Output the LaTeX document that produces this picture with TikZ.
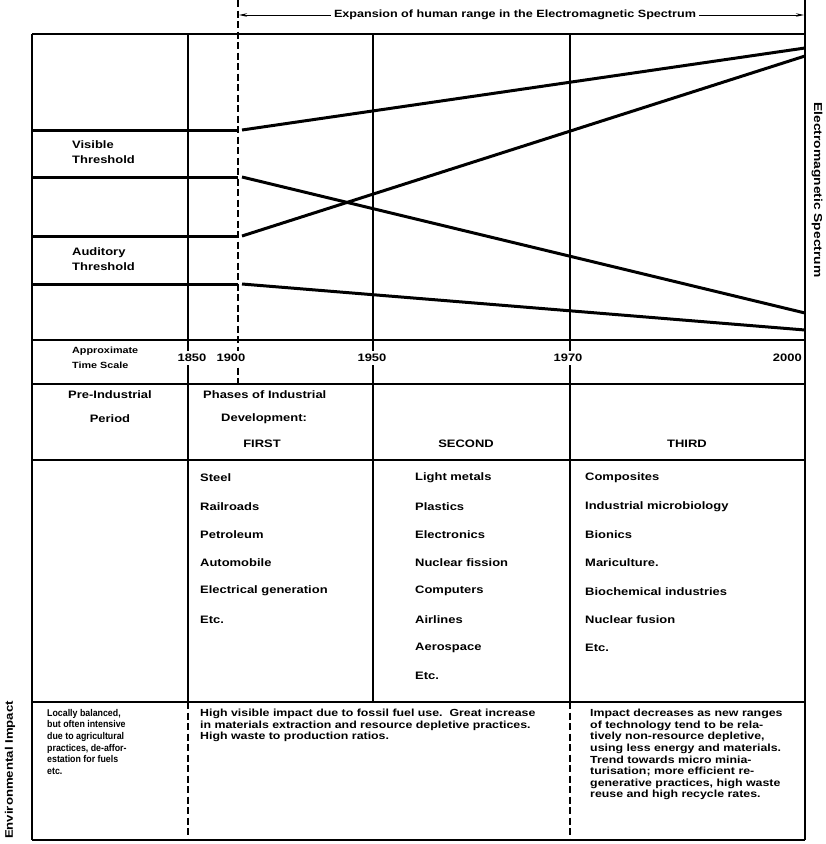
\documentclass[tikz,border=0pt]{standalone}
\usepackage{fontspec}
\newfontfamily\chartfont[FakeStretch=1.2]{Liberation Sans}
\newfontfamily\narrowfont[FakeStretch=0.9]{Liberation Sans}
\usetikzlibrary{arrows.meta}

\tikzset{
  rule/.style={line width=1.2pt},
  cutline/.style={line width=1.4pt, dash pattern=on 7pt off 3.5pt},
  threshold/.style={line width=3pt},
  txt/.style={font=\chartfont\bfseries\fontsize{10.8}{15}\selectfont, inner sep=0pt},
  listitem/.style={txt, anchor=west},
  note/.style={font=\chartfont\bfseries\fontsize{10.3}{11.6}\selectfont,
    inner sep=0pt, anchor=north west, align=left},
  year/.style={txt, fill=white, inner xsep=1pt, inner ysep=3pt},
  rangearrow/.style={line width=0.9pt, -{Stealth[length=8pt, width=3.5pt]}},
}

\begin{document}
\begin{tikzpicture}[x=1pt, y=-1pt]
  \useasboundingbox (0,0) rectangle (826,844);

  % frame and rows
  \draw [rule] (32,34) -- (805,34);
  \draw [rule] (32,34) -- (32,840);
  \draw [rule] (805,0) -- (805,840);
  \foreach \y in {340,384,460,702,840}
    \draw [rule] (32,\y) -- (805,\y);

  % time lines
  \draw [rule] (188,34) -- (188,702);
  \draw [rule] (373,34) -- (373,702);
  \draw [rule] (570,34) -- (570,702);
  \draw [cutline] (238,0) -- (238,384);
  \draw [cutline] (188,702) -- (188,840);
  \draw [cutline] (570,702) -- (570,840);

  % thresholds
  \foreach \a/\b in {130/48, 177/313, 236/56, 284/330}{
    \draw [threshold] (32,\a) -- (238,\a);
    \draw [threshold] (242,\a) -- (805,\b);
  }

  \node [txt, font=\chartfont\bfseries\fontsize{10.5}{12}\selectfont] (range) at (515,15)
    {Expansion of human range in the Electromagnetic Spectrum};
  \coordinate (rangeleft) at (239,15);
  \coordinate (rangeright) at (804,15);
  \draw [rangearrow] ([xshift=-3pt]range.west) -- (rangeleft);
  \draw [rangearrow] ([xshift=3pt]range.east) -- (rangeright);

  \node [txt, rotate=-90, font=\chartfont\bfseries\fontsize{11.5}{12}\selectfont] (emspec) at (817,190) {Electromagnetic Spectrum};
  \node [txt, rotate=90, font=\chartfont\bfseries\fontsize{11}{12}\selectfont] (envimpact) at (10,770) {Environmental Impact};

  \node [txt, anchor=west, align=left] (visible) at (72,152) {Visible\\Threshold};
  \node [txt, anchor=west, align=left] (auditory) at (72,259) {Auditory\\Threshold};

  % time scale
  \node [txt, anchor=west, align=left, font=\chartfont\bfseries\fontsize{9}{15}\selectfont]
    (approx) at (72,358) {Approximate\\Time Scale};
  \node [year] (y1850) at (192,358) {1850};
  \node [year] (y1900) at (231,358) {1900};
  \node [year] (y1950) at (372,358) {1950};
  \node [year] (y1970) at (568,358) {1970};
  \node [year, anchor=east] (y2000) at (803,358) {2000};

  % phases
  \node [txt] (preind) at (110,395) {Pre-Industrial};
  \node [txt] (period) at (110,419) {Period};
  \node [txt, anchor=west] (phases) at (203,395) {Phases of Industrial};
  \node [txt, anchor=west] (devel) at (221,419) {Development:};
  \node [txt] (first) at (262,444) {FIRST};
  \node [txt] (second) at (466,444) {SECOND};
  \node [txt] (third) at (687,444) {THIRD};

  \foreach \t [count=\i] in {Steel, Railroads, Petroleum, Automobile,
      Electrical generation, Etc.}
    \node [listitem] (firstitem\i) at (200,{478+28.3*(\i-1)}) {\t};
  \foreach \t [count=\i] in {Light metals, Plastics, Electronics, Nuclear fission,
      Computers, Airlines, Aerospace, Etc.}
    \node [listitem] (seconditem\i) at (415,{478+28.3*(\i-1)}) {\t};
  \foreach \t [count=\i] in {Composites, Industrial microbiology, Bionics, Mariculture.,
      Biochemical industries, Nuclear fusion, Etc.}
    \node [listitem] (thirditem\i) at (585,{478+28.3*(\i-1)}) {\t};

  % environmental impact
  \node [note, font=\narrowfont\bfseries\fontsize{9.8}{11.6}\selectfont] (impactpre) at (47,709)
    {Locally balanced,\\but often intensive\\due to agricultural\\practices, de-affor-\\estation for fuels\\etc.};
  \node [note] (impactfirst) at (200,709)
    {High visible impact due to fossil fuel use.\ \ Great increase\\in materials extraction and resource depletive practices.\\High waste to production ratios.};
  \node [note] (impactthird) at (590,709)
    {Impact decreases as new ranges\\of technology tend to be rela-\\tively non-resource depletive,\\using less energy and materials.\\Trend towards micro minia-\\turisation; more efficient re-\\generative practices, high waste\\reuse and high recycle rates.};
\end{tikzpicture}
\end{document}
